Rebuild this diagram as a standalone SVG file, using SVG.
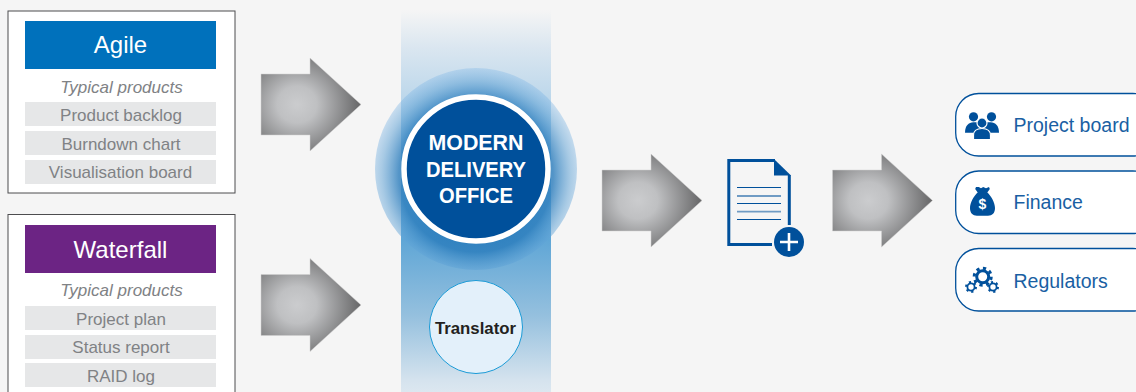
<svg xmlns="http://www.w3.org/2000/svg" width="1136" height="392" viewBox="0 0 1136 392">
<style>
text{font-family:"Liberation Sans",Arial,sans-serif;text-anchor:middle}
.panel{fill:#fff;stroke:#4d4d4f;stroke-width:1}
.row{fill:#e6e7e8}
.rt{font-size:17px;fill:#808285}
.it{font-size:17px;fill:#808285;font-style:italic}
.hd{font-size:24px;fill:#fff}
.arrow{fill:url(#ag);stroke:#d0d0d0;stroke-width:.5}
.pill{fill:#fff;stroke:#00509b;stroke-width:1.3}
.lb{font-size:19.500px;fill:#1a5fa3;text-anchor:start}
.ic{fill:#00509b}
.gap{fill:#00509b;stroke:#fff;stroke-width:1.200}
.mdo{font-size:22px;font-weight:bold;fill:#fff}
</style>
<defs>
<radialGradient id="ag" cx=".36" cy=".5" r=".66"><stop offset="0" stop-color="#cbccce"/><stop offset=".3" stop-color="#bfc0c2"/><stop offset="1" stop-color="#626263"/></radialGradient>
<linearGradient id="band" x1="0" y1="0" x2="0" y2="1"><stop offset="0" stop-color="#f5f5f5"/><stop offset=".1" stop-color="#dae6f0"/><stop offset=".25" stop-color="#b8d5ea"/><stop offset=".6" stop-color="#5fa6d6"/><stop offset=".8" stop-color="#95c0de"/><stop offset=".97" stop-color="#d5e3ee"/><stop offset="1" stop-color="#dce7f0"/></linearGradient>
<radialGradient id="halo" cy=".53" r=".53"><stop offset="0" stop-color="#1a72b8"/><stop offset=".72" stop-color="#2a7cbc" stop-opacity=".8"/><stop offset=".88" stop-color="#5a9fd4" stop-opacity=".5"/><stop offset="1" stop-color="#7ab4e6" stop-opacity=".32"/></radialGradient>
<path id="arrowshape" d="M0 16H49V0L100 46.500L49 93V77H0Z"/>
</defs>
<rect width="1136" height="392" fill="#f5f5f5"/>

<g id="agile">
<rect class="panel" x="8" y="11" width="227" height="182"/>
<rect x="25" y="21" width="191" height="48" fill="#0071bc"/>
<text class="hd" x="120.500" y="53">Agile</text>
<text class="it" x="121.500" y="93">Typical products</text>
<rect class="row" x="25" y="102" width="191" height="24"/><text class="rt" x="121" y="121">Product backlog</text>
<rect class="row" x="25" y="131" width="191" height="24"/><text class="rt" x="121" y="150">Burndown chart</text>
<rect class="row" x="25" y="160" width="191" height="24"/><text class="rt" x="120.500" y="178">Visualisation board</text>
</g>

<g id="waterfall">
<rect class="panel" x="8" y="214.500" width="227" height="190"/>
<rect x="25" y="225" width="191" height="48" fill="#6c2484"/>
<text class="hd" x="120.500" y="257.500">Waterfall</text>
<text class="it" x="121.500" y="296">Typical products</text>
<rect class="row" x="25" y="306" width="191" height="24"/><text class="rt" x="121" y="325">Project plan</text>
<rect class="row" x="25" y="335" width="191" height="24"/><text class="rt" x="121" y="353">Status report</text>
<rect class="row" x="25" y="363" width="191" height="24"/><text class="rt" x="121" y="382">RAID log</text>
</g>

<g id="connectors">
<use href="#arrowshape" class="arrow" x="261" y="58"/>
<use href="#arrowshape" class="arrow" x="261" y="258.500"/>
<use href="#arrowshape" class="arrow" x="602" y="154"/>
<use href="#arrowshape" class="arrow" x="832.500" y="154"/>
</g>

<g id="delivery-band">
<rect x="401" y="10" width="150" height="382" fill="url(#band)"/>
<circle cx="476" cy="169" r="101" fill="url(#halo)"/>
</g>
<g id="modern-delivery-office">
<circle cx="476" cy="169" r="72" fill="#00509b" stroke="#fff" stroke-width="5.500"/>
<text class="mdo" x="476" y="150" textLength="95" lengthAdjust="spacingAndGlyphs">MODERN</text>
<text class="mdo" x="476" y="176.700" textLength="100" lengthAdjust="spacingAndGlyphs">DELIVERY</text>
<text class="mdo" x="476" y="203.300" textLength="74" lengthAdjust="spacingAndGlyphs">OFFICE</text>
</g>
<g id="translator">
<circle cx="476" cy="327" r="46.500" fill="#e3f0fa" stroke="#1a9ad6" stroke-width="1"/>
<text x="475.500" y="334" font-size="16.800" font-weight="bold" fill="#231f20">Translator</text>
</g>

<g id="document">
<path d="M775 160.500H728.800V244.500H772M789.300 175V225" fill="none" stroke="#00509b" stroke-width="3"/>
<path class="ic" d="M774 159L791 175.500H774Z"/>
<g stroke="#00509b" fill="none">
<path d="M737 187.500H781M737 203.500H781M737 219.500H781" stroke-width="1"/>
<path d="M737 196H781M737 211.700H781" stroke-width="1.800" opacity=".55"/>
</g>
<circle class="ic" cx="789" cy="242" r="15"/>
<path d="M789 233V251M780 242H798" stroke="#fff" stroke-width="2.600" fill="none"/>
</g>

<g id="project-board">
<rect class="pill" x="955.700" y="93.500" width="200" height="62.500" rx="23"/>
<circle class="ic" cx="973.500" cy="116.800" r="4.600"/><circle class="ic" cx="991.500" cy="116.800" r="4.600"/>
<path class="ic" d="M965 132.700c0-7 3.500-10.500 8.500-10.500h17c5 0 8.500 3.500 8.500 10.500Z"/>
<circle class="gap" cx="982" cy="123" r="5"/>
<path class="gap" d="M973.500 139.500V135.500c0-4.500 3.500-7 8.500-7s8.500 2.500 8.500 7v4Z"/>
<text class="lb" x="1013.500" y="131.500">Project board</text>
</g>

<g id="finance">
<rect class="pill" x="955.700" y="171" width="200" height="62.500" rx="23"/>
<path class="ic" d="M976 187l-.8 2 2.500 3.500c-3.500 3-7.700 10-7.700 15.500 0 5 2.700 7.700 7 7.700h11c4.300 0 7-2.700 7-7.700 0-5.500-4.200-12.500-7.700-15.500l2.500-3.500-.8-2-3 1.200-2.800-1.200-2.200 1.200-2.200-1.200Z"/>
<text x="982.500" y="208.500" font-size="14" font-weight="bold" fill="#fff">$</text>
<text class="lb" x="1013.500" y="209">Finance</text>
</g>

<g id="regulators">
<rect class="pill" x="955.700" y="248.500" width="200" height="62.500" rx="23"/>
<g fill="none" stroke="#00509b">
<circle cx="982.700" cy="276.700" r="6" stroke-width="3"/>
<circle cx="982.700" cy="276.700" r="8.500" stroke-width="3" stroke-dasharray="3.200 3.470"/>
<circle cx="971" cy="287" r="3.600" stroke-width="1.800"/>
<circle cx="971" cy="287" r="5" stroke-width="2" stroke-dasharray="2.200 3"/>
<circle cx="993" cy="287" r="3.600" stroke-width="1.800"/>
<circle cx="993" cy="287" r="5" stroke-width="2" stroke-dasharray="2.200 3"/>
</g>
<text class="lb" x="1013.500" y="287.500">Regulators</text>
</g>
</svg>
